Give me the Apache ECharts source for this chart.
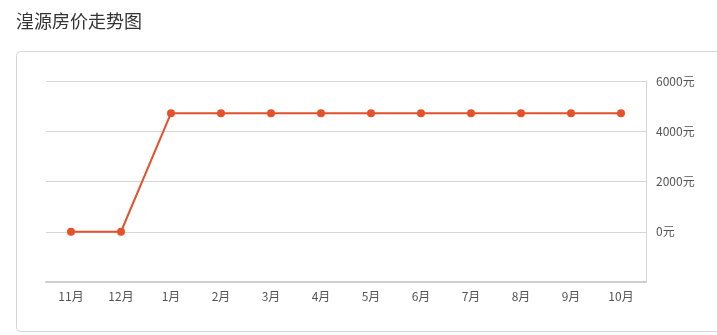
<!DOCTYPE html>
<html><head><meta charset="utf-8">
<script src="https://cdn.jsdelivr.net/npm/echarts@6/dist/echarts.min.js"></script>
<style>html,body{margin:0;padding:0;background:#fff}#c{width:717px;height:335px}</style>
</head><body><div id="c"></div>
<script>
const titleText = '湟源房价走势图';
const categories = ['11月','12月','1月','2月','3月','4月','5月','6月','7月','8月','9月','10月'];
const prices = [0, 0, 4720, 4720, 4720, 4720, 4720, 4720, 4720, 4720, 4720, 4720];
const yMin = -2000, yMax = 6000, yStep = 2000;
const unit = '元';

const chart = echarts.init(document.getElementById('c'));
chart.setOption({
  animation: false,
  backgroundColor: '#fff',
  graphic: [
    { type: 'rect', left: 16, top: 51, shape: { width: 720, height: 280, r: 4 },
      style: { fill: '#fff', stroke: '#d6d6d6', lineWidth: 1 }, z: -10 },
    { type: 'text', left: 16, top: 12, style: { text: titleText, font: '18px "Noto Sans CJK SC", sans-serif', fill: '#333' } }
  ],
  grid: { left: 46, right: 71, top: 81, bottom: 53, containLabel: false },
  xAxis: {
    type: 'category', data: categories, boundaryGap: true,
    axisLine: { onZero: false, lineStyle: { color: '#cfcfcf', width: 2 } },
    axisTick: { alignWithLabel: true, lineStyle: { color: '#cfcfcf' }, length: 4 },
    axisLabel: { color: '#555', fontSize: 12, margin: 8, fontFamily: '"Noto Sans CJK SC", sans-serif' },
    splitLine: { show: false }
  },
  yAxis: {
    type: 'value', position: 'right', min: yMin, max: yMax, interval: yStep,
    axisLine: { show: true, lineStyle: { color: '#d6d6d6', width: 1 } },
    axisTick: { show: false },
    axisLabel: { color: '#555', fontSize: 12, margin: 10, fontFamily: '"Noto Sans CJK SC", sans-serif',
      formatter: v => v < 0 ? '' : v + unit },
    splitLine: { show: true, lineStyle: { color: '#d6d6d6', width: 1 } }
  },
  series: [{
    type: 'line', data: prices,
    symbol: 'circle', symbolSize: 8,
    lineStyle: { color: '#e4512b', width: 2 },
    itemStyle: { color: '#e4512b' }
  }]
});
</script></body></html>
